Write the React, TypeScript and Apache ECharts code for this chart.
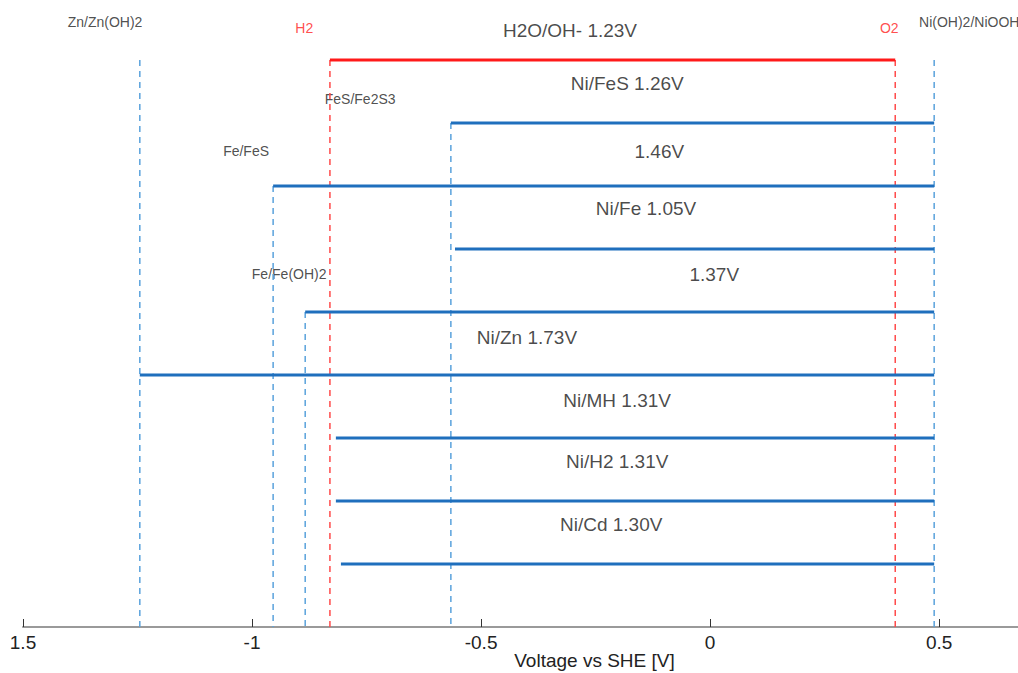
import React, { useEffect, useRef } from "react";
import * as echarts from "echarts";

// ---- data ----
// x tick labels as they appear
const tickValues = [-1.5, -1, -0.5, 0, 0.5];
const tickLabels = ["1.5", "-1", "-0.5", "0", "0.5"];

// reference electrode potentials (V vs SHE)
const refNames = ["Zn/Zn(OH)2", "Fe/FeS", "Fe/Fe(OH)2", "H2", "FeS/Fe2S3", "O2", "Ni(OH)2/NiOOH"];
const refPotentials = [-1.245, -0.954, -0.884, -0.83, -0.566, 0.404, 0.489];
const refTopRow = [0, 2, 4, 0, 1, 0, 0];
const refIsWater = [false, false, false, true, false, true, false];

// water window
const waterWindow = [-0.83, 0.404];
const waterLabel = "H2O/OH- 1.23V";

// cell rows (rows 1..8): start potential (negative electrode), end = Ni electrode
const cellStarts = [-0.566, -0.954, -0.557, -0.884, -1.245, -0.817, -0.817, -0.806];
const cellEnd = 0.489;
const cellLabels = ["Ni/FeS 1.26V", "1.46V", "Ni/Fe 1.05V", "1.37V", "Ni/Zn 1.73V", "Ni/MH 1.31V", "Ni/H2 1.31V", "Ni/Cd 1.30V"];

// ---- layout (label anchor positions in data coordinates) ----
const cellLabelPos = [
  [-0.181, 0.38],
  [-0.111, 1.46],
  [-0.14, 2.35],
  [0.009, 3.4],
  [-0.4, 4.4],
  [-0.203, 5.4],
  [-0.203, 6.38],
  [-0.216, 7.37],
];
const waterLabelPos = [-0.306, -0.476];
const refLabelPos = [
  [-1.321, -0.603],
  [-1.013, 1.444],
  [-0.919, 3.4],
  [-0.886, -0.508],
  [-0.764, 0.619],
  [0.391, -0.508],
  [0.456, -0.603],
];

const FONT = "'Liberation Sans', Arial, Helvetica, sans-serif";
const AXIS_ROW = 9;

export default function App() {
  const ref = useRef<HTMLDivElement>(null);

  useEffect(() => {
    if (!ref.current) return;
    const chart = echarts.init(ref.current, null, { renderer: "svg" });

    const series: any[] = [];

    // dashed reference lines
    refPotentials.forEach((p, i) => {
      series.push({
        type: "line",
        data: [
          [p, refTopRow[i]],
          [p, AXIS_ROW],
        ],
        symbol: "none",
        silent: true,
        z: 2,
        clip: false,
        lineStyle: {
          type: [6, 5],
          width: 1.5,
          color: refIsWater[i] ? "#ff4a4a" : "#5aa2dc",
        },
      });
    });

    // water window line
    series.push({
      type: "line",
      data: [
        [waterWindow[0], 0],
        [waterWindow[1], 0],
      ],
      symbol: "none",
      silent: true,
      z: 3,
      clip: false,
      lineStyle: { width: 3, color: "#ff1a1a" },
    });

    // cell lines
    cellStarts.forEach((s, i) => {
      series.push({
        type: "line",
        data: [
          [s, i + 1],
          [cellEnd, i + 1],
        ],
        symbol: "none",
        silent: true,
        z: 3,
        clip: false,
        lineStyle: { width: 3, color: "#1f6fbd" },
      });
    });

    // big labels
    series.push({
      type: "scatter",
      symbolSize: 0,
      silent: true,
      z: 4,
      data: [
        { value: waterLabelPos, name: waterLabel },
        ...cellLabels.map((n, i) => ({ value: cellLabelPos[i], name: n })),
      ],
      label: {
        show: true,
        position: "inside",
        formatter: (p: any) => p.name,
        fontFamily: FONT,
        fontSize: 19,
        color: "#1a1a1a",
      },
    });

    // small reference labels
    series.push({
      type: "scatter",
      symbolSize: 0,
      silent: true,
      z: 1,
      data: refNames.map((n, i) => {
        const lab: any = {};
        if (i === refNames.length - 1) {
          lab.position = "right";
          lab.distance = 0;
        }
        if (refIsWater[i]) lab.color = "#ff2020";
        return { value: refLabelPos[i], name: n, label: lab };
      }),
      label: {
        show: true,
        position: "inside",
        formatter: (p: any) => p.name,
        fontFamily: FONT,
        fontSize: 14,
        color: "#222",
      },
    });

    chart.setOption({
      animation: false,
      grid: { left: 23, right: 0, top: 0, bottom: 46, outerBoundsMode: "none", containLabel: false },
      xAxis: {
        type: "value",
        position: "bottom",
        min: -1.5,
        max: 0.672,
        interval: 0.5,
        name: "Voltage vs SHE [V]",
        nameLocation: "middle",
        nameGap: 33,
        nameMoveOverlap: false,
        nameTextStyle: {
          fontFamily: FONT,
          fontSize: 19,
          color: "#222",
          verticalAlign: "middle",
          padding: [0, 0, 0, 148],
        },
        axisLine: { onZero: false, lineStyle: { color: "#9a9a9a", width: 2 } },
        axisTick: { inside: true, length: 8, lineStyle: { color: "#333", width: 1 } },
        axisLabel: {
          showMaxLabel: false,
          margin: 6,
          fontFamily: FONT,
          fontSize: 19,
          color: "#222",
          formatter: (v: number) => {
            const idx = tickValues.findIndex((t) => Math.abs(t - v) < 1e-6);
            return idx >= 0 ? tickLabels[idx] : "";
          },
        },
        splitLine: { show: false },
      },
      yAxis: {
        type: "value",
        min: -60 / 63,
        max: AXIS_ROW,
        inverse: true,
        show: false,
      },
      series,
    });

    return () => chart.dispose();
  }, []);

  return (
    <div
      ref={ref}
      style={{ position: "fixed", left: 0, top: 0, width: 1018, height: 673, background: "#fff" }}
    />
  );
}
